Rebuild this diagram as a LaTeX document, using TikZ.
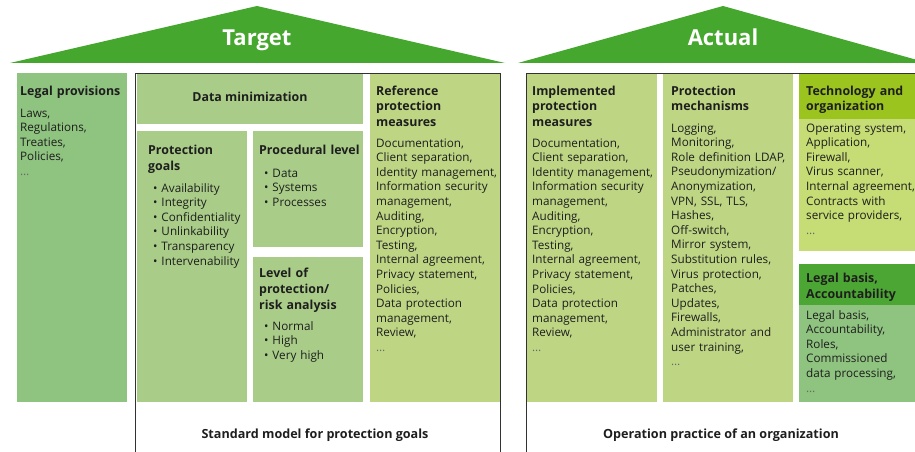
\documentclass[tikz,border=0pt]{standalone}
\usepackage{fontspec}
\setmainfont{Open Sans}
\usetikzlibrary{calc}
\definecolor{roofgreen}{RGB}{70,167,46}
\definecolor{legalgreen}{RGB}{143,195,128}
\definecolor{midgreen}{RGB}{169,205,136}
\definecolor{lightgreen}{RGB}{190,214,132}
\definecolor{techhead}{RGB}{155,196,30}
\definecolor{techbody}{RGB}{198,220,116}
\definecolor{lbhead}{RGB}{76,166,52}
\definecolor{txtc}{RGB}{30,30,30}
\definecolor{dotc}{RGB}{105,105,105}
\definecolor{framec}{RGB}{50,50,50}
\newcommand{\moredots}{{\color{dotc}\dots}}
\begin{document}
\begin{tikzpicture}[x=1pt,y=-1pt,
  box/.style={draw=none, inner sep=0pt, anchor=north west},
  body/.style={anchor=base west, inner sep=0pt, text width=135pt, align=left,
    font=\fontsize{11.7}{14.6}\selectfont, text=txtc},
  head/.style={anchor=base west, inner sep=0pt, text width=135pt, align=left,
    font=\bfseries\fontsize{12.4}{16}\selectfont, text=txtc},
  title/.style={inner sep=0pt, anchor=base, text=white, font=\bfseries\fontsize{22}{26}\selectfont},
  caption/.style={inner sep=0pt, text=txtc, font=\bfseries\fontsize{12.6}{15}\selectfont},
  frame/.style={draw=framec, line width=0.9pt},
]
\useasboundingbox (0,0) rectangle (915,452);

% roofs
\fill[roofgreen] (10,63) -- (257,6) -- (505,63) -- cycle;
\fill[roofgreen] (518,63) -- (723,6) -- (928,63) -- cycle;
\node[title] (tgt) at (257,46) {Target};
\node[title] (act) at (723,46) {Actual};

% boxes
\node[box, fill=legalgreen, minimum width=110pt, minimum height=329pt] (lp) at (17,73) {};
\node[box, fill=midgreen, minimum width=226pt, minimum height=51pt] (dm) at (137,73) {};
\node[box, fill=midgreen, minimum width=110pt, minimum height=271pt] (pg) at (137,131) {};
\node[box, fill=midgreen, minimum width=110pt, minimum height=116pt] (pl) at (253,131) {};
\node[box, fill=midgreen, minimum width=110pt, minimum height=145pt] (lv) at (253,257) {};
\node[box, fill=lightgreen, minimum width=130pt, minimum height=329pt] (rp) at (370,73) {};
\node[box, fill=lightgreen, minimum width=131pt, minimum height=329pt] (ip) at (526,73) {};
\node[box, fill=lightgreen, minimum width=130pt, minimum height=329pt] (pm) at (663,73) {};
\node[box, fill=techbody, minimum width=120pt, minimum height=178pt] (to) at (799,73) {};
\node[box, fill=techhead, minimum width=120pt, minimum height=46pt] (toh) at (799,73) {};
\node[box, fill=legalgreen, minimum width=120pt, minimum height=138pt] (lb) at (799,264) {};
\node[box, fill=lbhead, minimum width=120pt, minimum height=41pt] (lbh) at (799,264) {};

% frames
\draw[frame] (135,452) -- (135,73) -- (500,73) -- (500,452);
\draw[frame] (526,452) -- (526,73) -- (915,73);

% Legal provisions
\node[head] (lpH) at (20,95) {Legal provisions};
\node[body] (lpB) at (20,117) {Laws,\\Regulations,\\Treaties,\\Policies,\\\moredots};

% Data minimization
\node[inner sep=0pt, text=txtc, font=\bfseries\fontsize{12.4}{16}\selectfont] (dmH) at (250,97) {Data minimization};

% Protection goals
\node[head] (pgH) at (148,154) {Protection\\goals};
\node[body] (pgB) at (153,192) {\textbullet\ Availability\\\textbullet\ Integrity\\\textbullet\ Confidentiality\\\textbullet\ Unlinkability\\\textbullet\ Transparency\\\textbullet\ Intervenability};

% Procedural level
\node[head] (plH) at (259,154) {Procedural level};
\node[body] (plB) at (264,177) {\textbullet\ Data\\\textbullet\ Systems\\\textbullet\ Processes};

% Level of protection
\node[head] (lvH) at (259,277) {Level of\\protection/\\risk analysis};
\node[body] (lvB) at (264,330) {\textbullet\ Normal\\\textbullet\ High\\\textbullet\ Very high};

% Reference protection measures
\node[head] (rpH) at (376,95) {Reference\\protection\\measures};
\node[body] (rpB) at (376,147) {Documentation,\\Client separation,\\Identity management,\\Information security\\management,\\Auditing,\\Encryption,\\Testing,\\Internal agreement,\\Privacy statement,\\Policies,\\Data protection\\management,\\Review,\\\moredots};

% Implemented protection measures
\node[head] (ipH) at (532,95) {Implemented\\protection\\measures};
\node[body] (ipB) at (532,147) {Documentation,\\Client separation,\\Identity management,\\Information security\\management,\\Auditing,\\Encryption,\\Testing,\\Internal agreement,\\Privacy statement,\\Policies,\\Data protection\\management,\\Review,\\\moredots};

% Protection mechanisms
\node[head] (pmH) at (671,95) {Protection\\mechanisms};
\node[body] (pmB) at (671,132) {Logging,\\Monitoring,\\Role definition LDAP,\\Pseudonymization/\\Anonymization,\\VPN, SSL, TLS,\\Hashes,\\Off-switch,\\Mirror system,\\Substitution rules,\\Virus protection,\\Patches,\\Updates,\\Firewalls,\\Administrator and\\user training,\\\moredots};

% Technology and organization
\node[head] (toH) at (806,95) {Technology and\\organization};
\node[body] (toB) at (806,132) {Operating system,\\Application,\\Firewall,\\Virus scanner,\\Internal agreement,\\Contracts with\\service providers,\\\moredots};

% Legal basis
\node[head] (lbH) at (806,282) {Legal basis,\\Accountability};
\node[body] (lbB) at (806,319) {Legal basis,\\Accountability,\\Roles,\\Commissioned\\data processing,\\\moredots};

% captions
\node[caption] (cap1) at (315,435) {Standard model for protection goals};
\node[caption] (cap2) at (721,435) {Operation practice of an organization};
\end{tikzpicture}
\end{document}
